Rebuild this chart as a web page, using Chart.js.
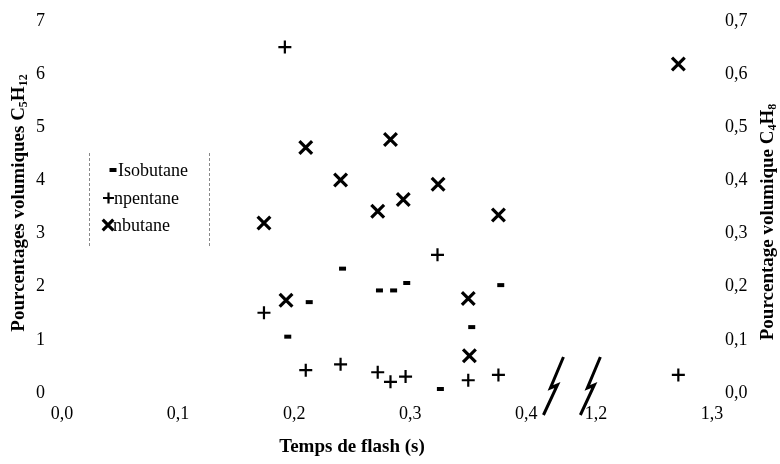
<!DOCTYPE html>
<html>
<head>
<meta charset="utf-8">
<script src="https://cdn.jsdelivr.net/npm/chart.js@4.4.1/dist/chart.umd.min.js"></script>
<style>
  html, body { margin: 0; padding: 0; background: #fff; }
  #wrap { width: 780px; height: 464px; position: relative; }
</style>
</head>
<body>
<div id="wrap"><canvas id="chart"></canvas></div>
<script>
// values (x = temps de flash in s)
const isobutaneX = [0.1945, 0.213, 0.2417, 0.2735, 0.2857, 0.297, 0.326, 0.353, 0.378];
const isobutaneY = [0.106, 0.171, 0.234, 0.193, 0.193, 0.207, 0.0075, 0.124, 0.203];

const npentaneX = [0.174, 0.192, 0.210, 0.240, 0.272, 0.283, 0.296, 0.3235, 0.350, 0.376, 1.271];
const npentaneY = [1.51, 6.51, 0.43, 0.54, 0.39, 0.21, 0.31, 2.60, 0.24, 0.34, 0.34];

const nbutaneX = [0.174, 0.193, 0.210, 0.240, 0.272, 0.283, 0.294, 0.324, 0.350, 0.351, 0.376, 1.271];
const nbutaneY = [0.320, 0.1745, 0.462, 0.401, 0.342, 0.477, 0.364, 0.393, 0.178, 0.070, 0.335, 0.619];

const xTickValues = [0, 0.1, 0.2, 0.3, 0.4, 1.2, 1.3];
const xTickLabels = ['0,0', '0,1', '0,2', '0,3', '0,4', '1,2', '1,3'];
const leftTickValues = [0, 1, 2, 3, 4, 5, 6, 7];
const leftTickLabels = ['0', '1', '2', '3', '4', '5', '6', '7'];
const rightTickValues = [0, 0.1, 0.2, 0.3, 0.4, 0.5, 0.6, 0.7];
const rightTickLabels = ['0,0', '0,1', '0,2', '0,3', '0,4', '0,5', '0,6', '0,7'];

// broken x axis: 0.4 .. 1.2 is squeezed into a small gap
const BREAK_FROM = 0.4;
const BREAK_TO = 1.2;
const BREAK_GAP = 0.06;
function toAxis(x) {
    return x > BREAK_FROM ? x - BREAK_TO + BREAK_FROM + BREAK_GAP : x;
}

function points(xs, ys) {
    return xs.map((x, i) => ({ x: toAxis(x), y: ys[i] }));
}

const SERIF = '"Liberation Serif", "Times New Roman", serif';
const tickFont = { family: SERIF, size: 18 };

function drawRich(ctx, parts, cx, cy, rotate) {
    ctx.save();
    ctx.translate(cx, cy);
    if (rotate) ctx.rotate(-Math.PI / 2);
    let total = 0;
    parts.forEach(p => {
        ctx.font = 'bold ' + (p.sub ? 12 : 19) + 'px ' + SERIF;
        p.w = ctx.measureText(p.t).width;
        total += p.w;
    });
    let x = -total / 2;
    ctx.textBaseline = 'middle';
    ctx.textAlign = 'left';
    ctx.fillStyle = '#000';
    parts.forEach(p => {
        ctx.font = 'bold ' + (p.sub ? 12 : 19) + 'px ' + SERIF;
        ctx.fillText(p.t, x, p.sub ? 5 : 0);
        x += p.w;
    });
    ctx.restore();
}

// keep the tick padding from pushing the plot area down
function fitY(width) {
    return s => {
        s.width = width;
        s.paddingTop = 10;
        s.paddingBottom = 10;
    };
}

const decorations = {
    id: 'decorations',
    afterDraw(chart) {
        const ctx = chart.ctx;
        const area = chart.chartArea;
        const xs = chart.scales.x;

        // axis titles
        drawRich(ctx, [{ t: 'Temps de flash (s)' }], 352, 447, false);
        drawRich(ctx, [
            { t: 'Pourcentages volumiques C' }, { t: '5', sub: true },
            { t: 'H' }, { t: '12', sub: true }
        ], 19, 203, true);
        drawRich(ctx, [
            { t: 'Pourcentage volumique C' }, { t: '4', sub: true },
            { t: 'H' }, { t: '8', sub: true }
        ], 768, 222, true);

        // break marks between 0,4 and 1,2
        const p0 = xs.getPixelForValue(toAxis(BREAK_FROM));
        const p1 = xs.getPixelForValue(toAxis(BREAK_TO));
        const cy = area.bottom - 7;
        ctx.save();
        ctx.strokeStyle = '#000';
        ctx.lineWidth = 3;
        ctx.lineJoin = 'miter';
        [p0 + (p1 - p0) * 0.39, p1 - (p1 - p0) * 0.08].forEach(cx => {
            ctx.beginPath();
            ctx.moveTo(cx + 10, cy - 29);
            ctx.lineTo(cx - 3, cy + 2);
            ctx.lineTo(cx + 4, cy - 1);
            ctx.lineTo(cx - 10, cy + 29);
            ctx.stroke();
        });
        ctx.restore();

        // legend box
        ctx.save();
        ctx.strokeStyle = '#888';
        ctx.lineWidth = 1;
        ctx.setLineDash([3, 2]);
        [89.5, 209.5].forEach(lx => {
            ctx.beginPath();
            ctx.moveTo(lx, 153);
            ctx.lineTo(lx, 248);
            ctx.stroke();
        });
        ctx.setLineDash([]);
        const rows = [
            { ds: 0, y: 170, mx: 113, tx: 118, r: 3.5 },
            { ds: 1, y: 198, mx: 108.5, tx: 114, r: 5.5 },
            { ds: 2, y: 225, mx: 108, tx: 113, r: 7.5 }
        ];
        rows.forEach(row => {
            const d = chart.data.datasets[row.ds];
            ctx.strokeStyle = '#000';
            ctx.fillStyle = '#000';
            ctx.lineWidth = d.pointBorderWidth;
            Chart.helpers.drawPoint(ctx, {
                pointStyle: d.pointStyle, radius: row.r,
                borderWidth: d.pointBorderWidth, rotation: 0
            }, row.mx, row.y);
            ctx.font = '18px ' + SERIF;
            ctx.textBaseline = 'middle';
            ctx.textAlign = 'left';
            ctx.fillText(d.label, row.tx, row.y + 1);
        });
        ctx.restore();
    }
};

new Chart(document.getElementById('chart'), {
    type: 'scatter',
    data: {
        datasets: [
            {
                label: 'Isobutane',
                data: points(isobutaneX, isobutaneY),
                yAxisID: 'y1',
                pointStyle: 'line',
                pointRadius: 3.5,
                pointBorderWidth: 4,
                pointBorderColor: '#000',
                pointBackgroundColor: '#000'
            },
            {
                label: 'npentane',
                data: points(npentaneX, npentaneY),
                yAxisID: 'y',
                pointStyle: 'cross',
                pointRadius: 6.5,
                pointBorderWidth: 2.2,
                pointBorderColor: '#000',
                pointBackgroundColor: '#000'
            },
            {
                label: 'nbutane',
                data: points(nbutaneX, nbutaneY),
                yAxisID: 'y1',
                pointStyle: 'crossRot',
                pointRadius: 9,
                pointBorderWidth: 3.2,
                pointBorderColor: '#000',
                pointBackgroundColor: '#000'
            }
        ]
    },
    options: {
        responsive: true,
        maintainAspectRatio: false,
        animation: false,
        layout: { padding: { top: 21, left: 0, right: 0, bottom: 0 } },
        plugins: {
            legend: { display: false },
            tooltip: { enabled: false }
        },
        scales: {
            x: {
                type: 'linear',
                min: 0,
                max: toAxis(1.3),
                grid: { display: false, drawTicks: false },
                border: { display: false },
                afterBuildTicks: s => { s.ticks = xTickValues.map(v => ({ value: toAxis(v) })); },
                afterFit: s => { s.height = 71; },
                ticks: {
                    callback: (v, i) => xTickLabels[i],
                    font: tickFont,
                    color: '#000',
                    padding: 10,
                    maxRotation: 0,
                    autoSkip: false
                }
            },
            y: {
                position: 'left',
                min: 0,
                max: 7,
                grid: { display: false, drawTicks: false },
                border: { display: false },
                afterBuildTicks: s => { s.ticks = leftTickValues.map(v => ({ value: v })); },
                afterFit: fitY(62),
                ticks: {
                    callback: (v, i) => leftTickLabels[i],
                    font: tickFont,
                    color: '#000',
                    padding: 17
                }
            },
            y1: {
                position: 'right',
                min: 0,
                max: 0.7,
                grid: { display: false, drawTicks: false },
                border: { display: false },
                afterBuildTicks: s => { s.ticks = rightTickValues.map(v => ({ value: v })); },
                afterFit: fitY(68),
                ticks: {
                    callback: (v, i) => rightTickLabels[i],
                    font: tickFont,
                    color: '#000',
                    padding: 13
                }
            }
        }
    },
    plugins: [decorations]
});
</script>
</body>
</html>
